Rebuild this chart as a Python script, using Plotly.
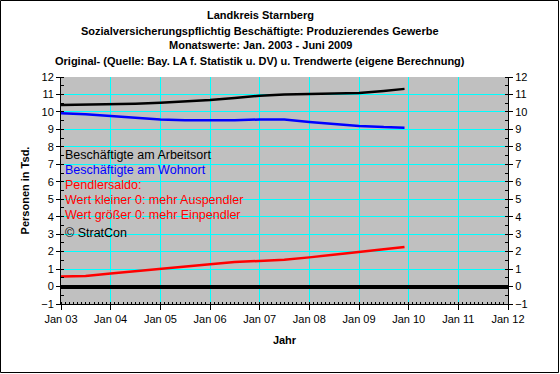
import plotly.graph_objects as go

dates = ["2003-01-01", "2003-07-01", "2004-01-01", "2004-07-01", "2005-01-01",
         "2005-07-01", "2006-01-01", "2006-07-01", "2007-01-01", "2007-07-01",
         "2008-01-01", "2008-07-01", "2009-01-01", "2009-07-01", "2009-12-01"]
arbeitsort = [10.40, 10.41, 10.44, 10.47, 10.52, 10.58, 10.68, 10.80, 10.93, 11.00,
              11.02, 11.04, 11.08, 11.20, 11.32]
wohnort = [9.93, 9.87, 9.76, 9.65, 9.57, 9.52, 9.51, 9.52, 9.57, 9.56,
           9.42, 9.30, 9.20, 9.13, 9.10]
pendlersaldo = [0.57, 0.60, 0.75, 0.87, 1.00, 1.12, 1.27, 1.40, 1.47, 1.53,
                1.67, 1.81, 1.97, 2.13, 2.27]

title_lines = ["Landkreis Starnberg",
               "Sozialversicherungspflichtig Beschäftigte: Produzierendes Gewerbe",
               "Monatswerte: Jan. 2003 - Juni 2009",
               "Original- (Quelle: Bay. LA f. Statistik u. DV) u. Trendwerte (eigene Berechnung)"]
legend_lines = [("Beschäftigte am Arbeitsort", "#000000"),
                ("Beschäftigte am Wohnort", "#0000FF"),
                ("Pendlersaldo:", "#FF0000"),
                ("Wert kleiner 0: mehr Auspendler", "#FF0000"),
                ("Wert größer 0: mehr Einpendler", "#FF0000"),
                ("© StratCon", "#000000")]

W, H = 560, 374
ML, MR, MT, MB = 61, 52, 77, 70
PW, PH = W - ML - MR, H - MT - MB
FONT = "Liberation Sans, Arial, sans-serif"

fig = go.Figure()
fig.add_trace(go.Scatter(x=dates, y=arbeitsort, mode="lines",
                         line=dict(color="#000000", width=2.5), showlegend=False))
fig.add_trace(go.Scatter(x=dates, y=wohnort, mode="lines",
                         line=dict(color="#0000FF", width=2.5), showlegend=False))
fig.add_trace(go.Scatter(x=dates, y=pendlersaldo, mode="lines",
                         line=dict(color="#FF0000", width=2.5), showlegend=False))
fig.add_trace(go.Scatter(x=dates, y=arbeitsort, mode="lines", yaxis="y2",
                         line=dict(color="rgba(0,0,0,0)", width=0), showlegend=False,
                         hoverinfo="skip"))

annotations = []
title_y = [15, 30.5, 45.5, 61]
for txt, yy in zip(title_lines, title_y):
    annotations.append(dict(text="<b>%s</b>" % txt, xref="paper", yref="paper",
                            x=(260 - ML) / PW, y=1 + (MT - yy) / PH,
                            xanchor="center", yanchor="middle", showarrow=False,
                            font=dict(family=FONT, size=11, color="#000000")))
leg_y = [155, 170, 185, 200, 215, 233]
for (txt, col), yy in zip(legend_lines, leg_y):
    annotations.append(dict(text=txt, xref="paper", yref="paper",
                            x=(63 - ML) / PW, y=1 - (yy - MT) / PH,
                            xanchor="left", yanchor="middle", showarrow=False,
                            font=dict(family=FONT, size=12.5, color=col)))

fig.update_layout(
    width=W, height=H,
    margin=dict(l=ML, r=MR, t=MT, b=MB, pad=0),
    paper_bgcolor="#FFFFFF", plot_bgcolor="#C0C0C0",
    font=dict(family=FONT, size=11, color="#000000"),
    showlegend=False,
    annotations=annotations,
    xaxis=dict(type="date", range=["2003-01-01", "2012-01-01"],
               dtick="M12", tick0="2003-01-01", tickformat="%b %y",
               showgrid=True, gridcolor="#00FFFF", gridwidth=1,
               ticks="outside", ticklen=5, tickcolor="#000000",
               showline=True, linecolor="#000000", linewidth=1,
               minor=dict(dtick="M1", ticks="inside", ticklen=2, tickwidth=1,
                          tickcolor="#000000", showgrid=False),
               zeroline=False,
               title=dict(text="<b>Jahr</b>", font=dict(size=11), standoff=12),
               tickfont=dict(size=11)),
    yaxis=dict(range=[-1, 12], dtick=1, showgrid=True, gridcolor="#00FFFF", gridwidth=1,
               ticks="outside", ticklen=4, tickcolor="#000000",
               showline=True, linecolor="#000000", linewidth=1,
               minor=dict(dtick=0.5, ticks="inside", ticklen=3, tickcolor="#000000", showgrid=False),
               zeroline=True, zerolinecolor="#000000", zerolinewidth=3.5,
               title=dict(text="<b>Personen in Tsd.</b>", font=dict(size=11), standoff=9),
               tickfont=dict(size=11)),
    yaxis2=dict(range=[-1, 12], dtick=1, overlaying="y", side="right", anchor="x",
                showgrid=False, zeroline=False,
                ticks="outside", ticklen=4, tickcolor="#000000",
                showline=True, linecolor="#000000", linewidth=1,
                minor=dict(dtick=0.5, ticks="inside", ticklen=3, tickcolor="#000000"),
                tickfont=dict(size=11)),
    shapes=[dict(type="rect", xref="paper", yref="paper",
                 x0=-(ML - 0.5) / PW, x1=1 + (MR - 1.5) / PW,
                 y0=-(MB - 1.5) / PH, y1=1 + (MT - 0.5) / PH,
                 line=dict(color="#000000", width=1), fillcolor="rgba(0,0,0,0)")],
)

fig.write_html("out.html", config={"displayModeBar": False},
               post_script="document.body.style.margin='0';document.body.style.padding='0';")
